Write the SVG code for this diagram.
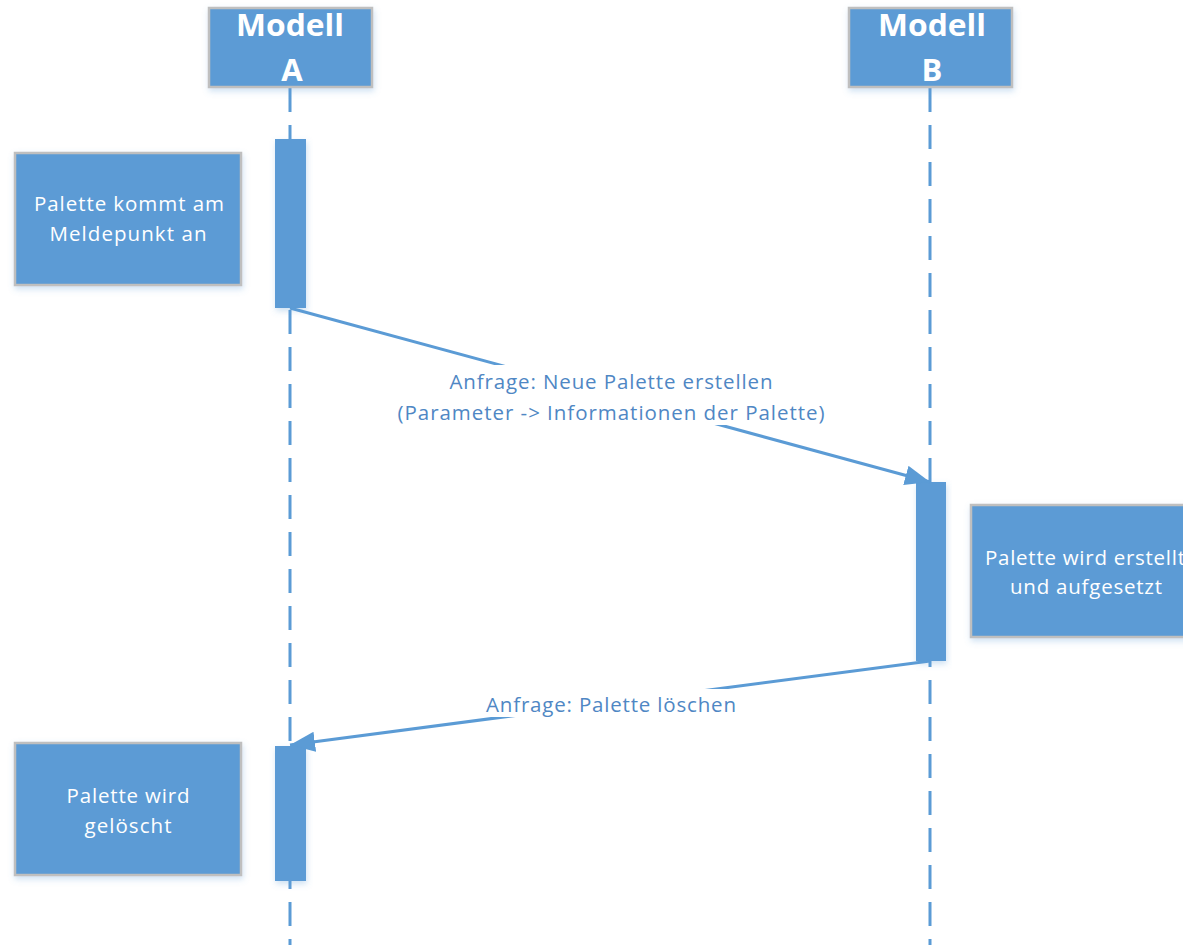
<svg xmlns="http://www.w3.org/2000/svg" width="1183" height="945" viewBox="0 0 1183 945">
<style>
.box{fill:#5B9BD5;stroke:#BFBFBF;stroke-width:2.5;filter:url(#sh)}
.act{fill:#5B9BD5;filter:url(#sh)}
.life{stroke:#5B9BD5;stroke-width:3;stroke-dasharray:24 13;fill:none}
.msg{stroke:#5B9BD5;stroke-width:3;fill:none;marker-end:url(#ah)}
.hd{font-family:"Open Sans","Liberation Sans",sans-serif;font-weight:bold;font-size:31px;fill:#fff;text-anchor:middle}
.nt{font-family:"Open Sans","Liberation Sans",sans-serif;font-size:20.5px;fill:#fff;text-anchor:middle}
.lb{font-family:"Open Sans","Liberation Sans",sans-serif;font-size:20.5px;fill:#4F87C4;text-anchor:middle}
</style>
<defs>
<filter id="sh" x="-20%" y="-20%" width="140%" height="150%">
<feDropShadow dx="1" dy="3" stdDeviation="3" flood-color="#5B9BD5" flood-opacity="0.3"/>
</filter>
<marker id="ah" markerUnits="userSpaceOnUse" markerWidth="26" markerHeight="22" refX="25" refY="10" orient="auto">
<path d="M0,0 L25,10 L0,20 z" fill="#5B9BD5"/>
</marker>
</defs>
<g id="lifelines">
<line class="life" x1="290" y1="88" x2="290" y2="945"/>
<line class="life" x1="930" y1="88" x2="930" y2="945"/>
</g>
<g id="modellA">
<rect class="box" x="209" y="8" width="163" height="79"/>
<text class="hd" x="290" y="36" textLength="108" lengthAdjust="spacingAndGlyphs">Modell</text>
<text class="hd" x="292" y="81">A</text>
</g>
<g id="modellB">
<rect class="box" x="849" y="8" width="163" height="79"/>
<text class="hd" x="932" y="36" textLength="108" lengthAdjust="spacingAndGlyphs">Modell</text>
<text class="hd" x="932" y="81">B</text>
</g>
<g id="actA1"><rect class="act" x="275" y="139" width="31" height="169"/></g>
<g id="actB"><rect class="act" x="916" y="482" width="30" height="179"/></g>
<g id="actA2"><rect class="act" x="275" y="746" width="31" height="135"/></g>
<g id="note1">
<rect class="box" x="15" y="153" width="226" height="132"/>
<text class="nt" x="129" y="211" textLength="190" lengthAdjust="spacing">Palette kommt am</text>
<text class="nt" x="128" y="241" textLength="157" lengthAdjust="spacing">Meldepunkt an</text>
</g>
<g id="note2">
<rect class="box" x="971" y="505" width="232" height="132"/>
<text class="nt" x="985" y="565" style="text-anchor:start" textLength="200" lengthAdjust="spacing">Palette wird erstellt</text>
<text class="nt" x="1086" y="594" textLength="152" lengthAdjust="spacing">und aufgesetzt</text>
</g>
<g id="note3">
<rect class="box" x="15" y="743" width="226" height="132"/>
<text class="nt" x="128" y="803" textLength="123" lengthAdjust="spacing">Palette wird</text>
<text class="nt" x="128" y="833" textLength="87" lengthAdjust="spacing">gelöscht</text>
</g>
<g id="connectors">
<line class="msg" x1="290" y1="308" x2="930" y2="482"/>
<rect x="398" y="365" width="428" height="60" fill="#fff"/>
<text class="lb" x="611" y="389" textLength="323" lengthAdjust="spacing">Anfrage: Neue Palette erstellen</text>
<text class="lb" x="611" y="420" textLength="427" lengthAdjust="spacing">(Parameter -&gt; Informationen der Palette)</text>
<line class="msg" x1="930" y1="661" x2="290" y2="745"/>
<rect x="486" y="689" width="251" height="28" fill="#fff"/>
<text class="lb" x="611" y="712" textLength="250" lengthAdjust="spacing">Anfrage: Palette löschen</text>
</g>
</svg>
